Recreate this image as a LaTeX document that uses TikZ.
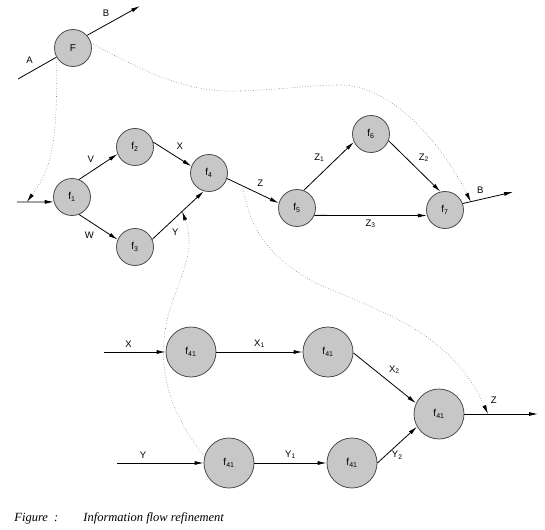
\documentclass[tikz,border=0pt]{standalone}
\usepackage{fontspec}
\setmainfont{Liberation Sans}
\newfontfamily\capfont{Liberation Serif}
\usepackage{tikz}
\usetikzlibrary{arrows.meta,automata,calc}

\begin{document}
\begin{tikzpicture}[x=1pt,y=-1pt,->,>={Latex[length=9pt,width=4pt]},auto,
                    line width=0.8pt,font=\fontsize{9.5}{11}\selectfont,
                    every node/.style={inner sep=4pt}]
  \tikzstyle{every state}=[fill=black!22,draw=black!70,line width=0.8pt,text=black,
                           minimum size=37pt,inner sep=0pt,font=\fontsize{10}{12}\selectfont]
  \tikzstyle{big state}=[state,minimum size=50pt]
  \tikzstyle{flow}=[draw=black!50,dotted,line width=0.6pt,
                    -{Latex[length=9pt,width=4pt,black,fill=black]}]
  \useasboundingbox (0,0) rectangle (545,529);

  \node[state]         (F)  at (73,48)   {F};
  \node[state]         (f1) at (72,197)  {f\textsubscript{1}};
  \node[state]         (f2) at (135,147) {f\textsubscript{2}};
  \node[state]         (f3) at (135,247) {f\textsubscript{3}};
  \node[state]         (f4) at (209,173) {f\textsubscript{4}};
  \node[state]         (f5) at (297,208) {f\textsubscript{5}};
  \node[state]         (f6) at (371,134) {f\textsubscript{6}};
  \node[state]         (f7) at (445,210) {f\textsubscript{7}};

  \node[big state]     (g1) at (191,352) {f\textsubscript{41}};
  \node[big state]     (g2) at (328,352) {f\textsubscript{41}};
  \node[big state]     (g3) at (439,414) {f\textsubscript{41}};
  \node[big state]     (g4) at (229,463) {f\textsubscript{41}};
  \node[big state]     (g5) at (352,463) {f\textsubscript{41}};

  \coordinate (inA)  at (18,79);
  \coordinate (outB) at (140,6);
  \coordinate (in1)  at (17,202);
  \coordinate (out7) at (513,192);
  \coordinate (inX)  at (104,352);
  \coordinate (inY)  at (117,463);
  \coordinate (outZ) at (538,414);

  \path (inA) edge[-]         node {A} (F.209)
        (F.42) edge           node {B} (outB)
        (in1) edge            (f1.195)
        (f1.68) edge          node {V} (f2.202)
        (f1.292) edge         node[swap] {W} (f3.157)
        (f2.15) edge          node {X} (f4.159)
        (f3.24) edge          node[swap,pos=0.3] {Y} (f4.254)
        (f4.343) edge         node {Z} (f5.165)
        (f5.69) edge          node {Z\textsubscript{1}} (f6.205)
        (f6.339) edge         node {Z\textsubscript{2}} (f7.104)
        (f5.337) edge         node[swap] {Z\textsubscript{3}} (f7.197)
        (f7.20) edge          node {B} (out7);

  \path (inX) edge            node[pos=0.4] {X} (g1)
        (g1) edge             node {X\textsubscript{1}} (g2)
        (g2.358) edge         node {X\textsubscript{2}} (g3.155)
        (g3) edge             node[pos=0.4,inner sep=10pt] {Z} (outZ)
        (inY) edge            node[pos=0.3] {Y} (g4)
        (g4) edge             node {Y\textsubscript{1}} (g5)
        (g5.0) edge           node[below=2pt] {Y\textsubscript{2}} (g3.210);

  % refinement links
  \coordinate (tap1) at ($(in1)!0.27!(f1.195)$);
  \coordinate (tapB) at ($(f7.20)!0.16!(out7)$);
  \coordinate (tapY) at ($(f3.24)!0.58!(f4.254)$);
  \coordinate (tapZ) at ($(f4.343)!0.3!(f5.165)$);
  \coordinate (tapO) at ($(g3.east)!0.32!(outZ)$);

  \draw[flow] (F.209) .. controls (58,150) and (50,170) .. (tap1);
  \draw[flow] (F.15) .. controls (150,75) and (190,93) .. (240,91)
              .. controls (290,89) and (310,85) .. (340,85)
              .. controls (390,85) and (440,140) .. (tapB);
  \draw[flow] (tapZ) .. controls (250,230) and (270,260) .. (320,285)
              .. controls (380,312) and (450,330) .. (tapO);
  \draw[flow] (g4.165) .. controls (175,420) and (160,380) .. (164,340)
              .. controls (168,290) and (200,260) .. (tapY);

  \node[anchor=base west,inner sep=0pt,font=\capfont\itshape\fontsize{12.5}{14}\selectfont] (fig) at (14,521) {Figure\ \ :};
  \node[anchor=base west,inner sep=0pt,font=\capfont\itshape\fontsize{12.5}{14}\selectfont] (cap) at (83,521) {Information flow refinement};
\end{tikzpicture}
\end{document}
